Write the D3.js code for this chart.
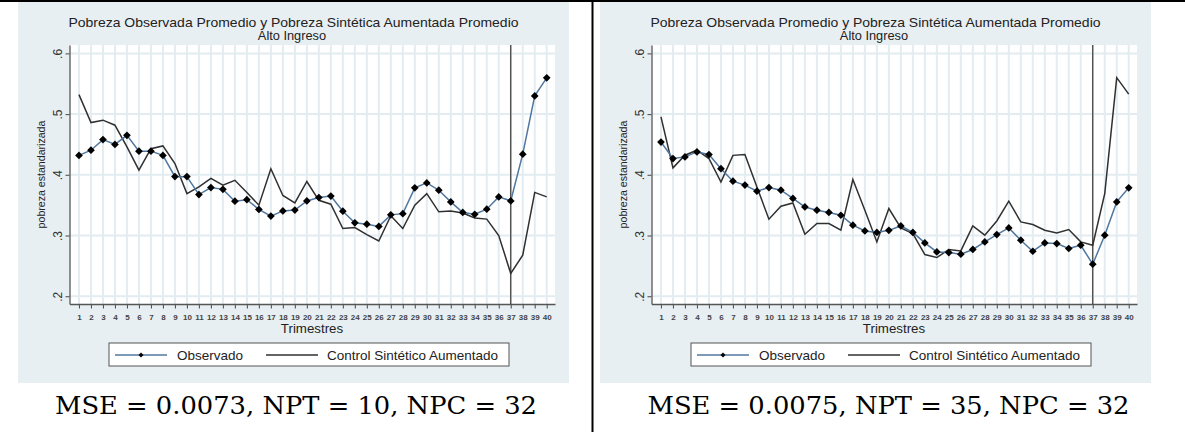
<!DOCTYPE html>
<html>
<head>
<meta charset="utf-8">
<script src="https://cdn.jsdelivr.net/npm/d3@7"></script>
<style>
  html, body { margin: 0; padding: 0; background: #ffffff; }
  svg { display: block; }
</style>
</head>
<body>
<svg id="chart" width="1185" height="432"></svg>
<script>
// ---------------- DATA ----------------
const quarters = [1,2,3,4,5,6,7,8,9,10,11,12,13,14,15,16,17,18,19,20,
                  21,22,23,24,25,26,27,28,29,30,31,32,33,34,35,36,37,38,39,40];
const xTickLabels = ["1","2","3","4","5","6","7","8","9","10","11","12","13","14","15","16","17","18","19","20",
                     "21","22","23","24","25","26","27","28","29","30","31","32","33","34","35","36","37","38","39","40"];
const yTicks = [0.2, 0.3, 0.4, 0.5, 0.6];
const yTickLabels = [".2", ".3", ".4", ".5", ".6"];
const treatmentQuarter = 37;

const leftObserved = [0.432,0.4405,0.458,0.450,0.465,0.439,0.439,0.432,0.397,0.397,
                      0.3675,0.379,0.376,0.3565,0.359,0.343,0.332,0.3405,0.342,0.357,
                      0.3626,0.365,0.340,0.321,0.3186,0.315,0.334,0.336,0.3785,0.3867,
                      0.3746,0.3554,0.338,0.335,0.3433,0.3636,0.357,0.434,0.530,0.5597];
const leftSynthetic = [0.532,0.486,0.490,0.4817,0.446,0.4076,0.443,0.4476,0.4186,0.369,
                       0.380,0.394,0.383,0.391,0.371,0.350,0.410,0.366,0.3537,0.389,
                       0.358,0.3516,0.3115,0.313,0.3016,0.291,0.3325,0.3115,0.350,0.369,
                       0.339,0.3405,0.337,0.329,0.327,0.300,0.2374,0.2675,0.371,0.3636];
const rightObserved = [0.454,0.4268,0.4295,0.4377,0.4334,0.410,0.3895,0.383,0.373,0.379,
                       0.3746,0.361,0.347,0.3417,0.338,0.3334,0.317,0.3076,0.305,0.3085,
                       0.3158,0.305,0.2878,0.273,0.272,0.2692,0.277,0.2895,0.3016,0.3125,
                       0.2923,0.2741,0.2878,0.2867,0.2786,0.284,0.2527,0.3005,0.3554,0.3785];
const rightSynthetic = [0.4954,0.4114,0.4323,0.4405,0.4268,0.388,0.432,0.4334,0.380,0.3269,
                        0.3483,0.3537,0.302,0.3197,0.3197,0.3087,0.3922,0.3417,0.2895,0.3445,
                        0.3125,0.303,0.2687,0.2637,0.277,0.2746,0.3158,0.3005,0.324,0.3565,
                        0.3224,0.318,0.3087,0.3043,0.3098,0.2895,0.284,0.369,0.560,0.5328];

const titleLines = ["Pobreza Observada Promedio y Pobreza Sintética Aumentada Promedio", "Alto Ingreso"];
const yAxisTitle = "pobreza estandarizada";
const xAxisTitle = "Trimestres";
const legendLabels = ["Observado", "Control Sintético Aumentado"];
const captions = ["MSE = 0.0073, NPT = 10, NPC = 32", "MSE = 0.0075, NPT = 35, NPC = 32"];

// ---------------- STYLE ----------------
const bgColor = "#e8eff2";
const gridColor = "#e3ecf0";
const obsColor = "#5077a0";
const synColor = "#303030";
const axisColor = "#555555";
const sans = "'Liberation Sans', Arial, sans-serif";

const svg = d3.select("#chart");

function drawPanel(offsetX, observed, synthetic, caption, captionX) {
  const g = svg.append("g").attr("transform", `translate(${offsetX},0)`);

  // graph region background
  g.append("rect").attr("x", 18).attr("y", 2).attr("width", 551).attr("height", 381).attr("fill", bgColor);

  const x = d3.scaleLinear().domain([0.21, 40.69]).range([69.5, 555]);
  const y = d3.scaleLinear().domain([0.1872, 0.6138]).range([304, 45]);

  // plot region
  g.append("rect").attr("x", 69.5).attr("y", 45).attr("width", 555 - 69.5).attr("height", 304 - 45).attr("fill", "#ffffff");

  // grid lines
  g.append("g").selectAll("line").data(quarters).join("line")
    .attr("x1", d => x(d)).attr("x2", d => x(d)).attr("y1", 45).attr("y2", 304)
    .attr("stroke", gridColor).attr("stroke-width", 2);
  g.append("g").selectAll("line").data(yTicks).join("line")
    .attr("x1", 69.5).attr("x2", 555).attr("y1", d => y(d)).attr("y2", d => y(d))
    .attr("stroke", gridColor).attr("stroke-width", 2);

  // title
  g.append("text").attr("x", 293.5).attr("y", 27.3)
    .attr("text-anchor", "middle").attr("font-family", sans).attr("font-size", 12.4)
    .attr("textLength", 450).attr("lengthAdjust", "spacingAndGlyphs")
    .attr("fill", "#222").text(titleLines[0]);
  g.append("text").attr("x", 292).attr("y", 40)
    .attr("text-anchor", "middle").attr("font-family", sans).attr("font-size", 12.8)
    .attr("fill", "#222").text(titleLines[1]);

  // y axis
  const yAxis = d3.axisLeft(y).tickValues(yTicks).tickSize(4).tickSizeOuter(0)
    .tickFormat((d, i) => yTickLabels[i]);
  const ya = g.append("g").attr("transform", "translate(69.5,0)").call(yAxis);
  ya.select(".domain").attr("stroke", axisColor).attr("stroke-width", 1.3);
  ya.selectAll(".tick line").attr("stroke", axisColor).attr("stroke-width", 1.1);
  ya.selectAll(".tick text")
    .attr("transform", "rotate(-90)").attr("x", 0).attr("y", -8).attr("dy", 0)
    .attr("text-anchor", "middle").attr("font-family", sans).attr("font-size", 12).attr("fill", "#333");

  // x axis
  const xAxis = d3.axisBottom(x).tickValues(quarters).tickSize(4.5).tickSizeOuter(0)
    .tickFormat((d, i) => xTickLabels[i]);
  const xa = g.append("g").attr("transform", "translate(0,304)").call(xAxis);
  xa.select(".domain").attr("stroke", axisColor).attr("stroke-width", 1.3);
  xa.selectAll(".tick line").attr("stroke", axisColor).attr("stroke-width", 1.1);
  xa.selectAll(".tick text").attr("y", 10).attr("font-family", sans).attr("font-size", 8)
    .attr("font-weight", "bold").attr("fill", "#444");

  // axis titles
  g.append("text").attr("x", 312).attr("y", 333).attr("text-anchor", "middle")
    .attr("font-family", sans).attr("font-size", 13.3).attr("fill", "#222").text(xAxisTitle);
  g.append("text").attr("transform", "translate(45,174.5) rotate(-90)").attr("text-anchor", "middle")
    .attr("font-family", sans).attr("font-size", 10.6).attr("fill", "#222").text(yAxisTitle);

  // treatment line
  g.append("line").attr("x1", x(treatmentQuarter)).attr("x2", x(treatmentQuarter))
    .attr("y1", 45).attr("y2", 304).attr("stroke", "#444").attr("stroke-width", 1.3);

  // series
  const line = d3.line().x((d, i) => x(quarters[i])).y(d => y(d));
  g.append("path").datum(synthetic).attr("d", line).attr("fill", "none")
    .attr("stroke", synColor).attr("stroke-width", 1.5);
  g.append("path").datum(observed).attr("d", line).attr("fill", "none")
    .attr("stroke", obsColor).attr("stroke-width", 1.5);
  const diamond = d3.symbol().type(d3.symbolDiamond2).size(38);
  g.append("g").selectAll("path").data(observed).join("path")
    .attr("transform", (d, i) => `translate(${x(quarters[i])},${y(d)})`)
    .attr("d", diamond).attr("fill", "#000");

  // legend
  const lg = g.append("g");
  lg.append("rect").attr("x", 109).attr("y", 343).attr("width", 400).attr("height", 23)
    .attr("fill", "#ffffff").attr("stroke", "#555").attr("stroke-width", 1);
  lg.append("line").attr("x1", 115).attr("x2", 167).attr("y1", 355).attr("y2", 355)
    .attr("stroke", obsColor).attr("stroke-width", 1.4);
  lg.append("path").attr("transform", "translate(141,355)")
    .attr("d", d3.symbol().type(d3.symbolDiamond2).size(16)).attr("fill", "#000");
  lg.append("text").attr("x", 177).attr("y", 359.5).attr("font-family", sans).attr("font-size", 13.5)
    .attr("fill", "#222").text(legendLabels[0]);
  lg.append("line").attr("x1", 266).attr("x2", 318).attr("y1", 355).attr("y2", 355)
    .attr("stroke", synColor).attr("stroke-width", 1.4);
  lg.append("text").attr("x", 327).attr("y", 359.5).attr("font-family", sans).attr("font-size", 13.5)
    .attr("fill", "#222").text(legendLabels[1]);

  // caption
  g.append("text").attr("x", captionX).attr("y", 413.5).attr("text-anchor", "middle")
    .attr("font-family", "'DejaVu Serif', 'Liberation Serif', serif").attr("font-size", 23.5)
    .attr("fill", "#000").attr("textLength", 482).attr("lengthAdjust", "spacingAndGlyphs")
    .text(caption);
}

drawPanel(0, leftObserved, leftSynthetic, captions[0], 296);
drawPanel(582, rightObserved, rightSynthetic, captions[1], 306.5);

// table borders
svg.append("line").attr("x1", 0).attr("x2", 1185).attr("y1", 1).attr("y2", 1).attr("stroke", "#000").attr("stroke-width", 2);
svg.append("line").attr("x1", 592.5).attr("x2", 592.5).attr("y1", 0).attr("y2", 432).attr("stroke", "#000").attr("stroke-width", 2);
</script>
</body>
</html>
